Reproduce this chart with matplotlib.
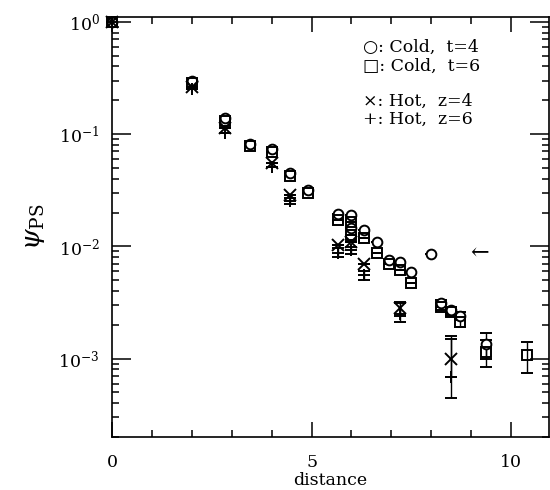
import matplotlib
matplotlib.use('Agg')
import matplotlib.pyplot as plt
import numpy as np

plt.rcParams['font.family'] = ['DejaVu Serif', 'DejaVu Sans']
plt.rcParams['mathtext.fontset'] = 'dejavuserif'

# Cold, t=4 (cerchi)
cold4_x = [0, 2.00, 2.83, 3.46, 4.00, 4.47, 4.90, 5.66, 6.00, 6.00, 6.32, 6.63, 6.93, 7.21, 7.48, 8.00, 8.25, 8.49, 8.72, 9.38]
cold4_y = [1.0, 0.297, 0.139, 0.081, 0.073, 0.045, 0.0316, 0.0193, 0.019, 0.0145, 0.0139, 0.0109, 0.0075, 0.0072, 0.0059, 0.0086, 0.0031, 0.0027, 0.0024, 0.00135]
cold4_err = [0, 0, 0, 0, 0, 0, 0, 0, 0, 0, 0, 0, 0, 0, 0, 0, 0.0002, 0.0002, 0.0002, 0.00035]

# Cold, t=6 (quadrati)
cold6_x = [0, 2.00, 2.83, 3.46, 4.00, 4.47, 4.90, 5.66, 6.00, 6.00, 6.32, 6.63, 6.93, 7.21, 7.48, 8.25, 8.49, 8.72, 9.38, 10.39]
cold6_y = [1.0, 0.285, 0.131, 0.078, 0.069, 0.042, 0.0296, 0.0171, 0.0165, 0.0125, 0.0118, 0.0088, 0.0069, 0.0061, 0.0047, 0.0029, 0.0026, 0.0021, 0.00115, 0.00108]
cold6_err = [0, 0, 0, 0, 0, 0, 0, 0, 0, 0, 0, 0, 0, 0, 0, 0.0002, 0.0002, 0.0002, 0.0003, 0.00034]

# Hot, z=4 (croci x)
hot4_x = [0, 2.00, 2.83, 4.00, 4.47, 5.66, 6.00, 6.32, 7.21, 8.49]
hot4_y = [1.0, 0.263, 0.113, 0.055, 0.0285, 0.0102, 0.0109, 0.0070, 0.0028, 0.0010]
hot4_lo = [0, 0, 0, 0, 0, 0, 0, 0, 0.0004, 0.00032]
hot4_hi = [0, 0, 0, 0, 0, 0, 0, 0, 0.0004, 0.0006]

# Hot, z=6 (croci +)
hot6_x = [0, 2.00, 2.83, 4.00, 4.47, 5.66, 6.00, 6.32, 7.21, 8.49]
hot6_y = [1.0, 0.252, 0.102, 0.051, 0.0256, 0.0088, 0.0092, 0.0055, 0.0025, 0.00068]
hot6_lo = [0, 0, 0, 0, 0.0016, 0.0008, 0.0007, 0.0005, 0.0004, 0.00023]
hot6_hi = [0, 0, 0, 0, 0.0016, 0.0008, 0.0007, 0.0005, 0.0006, 0.00082]

legend_lines = ['\u25cb: Cold,  t=4', '\u25a1: Cold,  t=6', '\u00d7: Hot,  z=4', '+: Hot,  z=6']

fig = plt.figure(figsize=(5.5, 4.9), dpi=100)
ax = fig.add_axes([0.204, 0.108, 0.794, 0.857])

stile = dict(color='black', linestyle='none', elinewidth=1.0, capsize=4, capthick=1.0, clip_on=False)
ax.errorbar(cold4_x, cold4_y, yerr=cold4_err, marker='o', ms=7, mfc='white', mec='black', mew=1.4, **stile)
ax.errorbar(cold6_x, cold6_y, yerr=cold6_err, marker='s', ms=6.5, mfc='none', mec='black', mew=1.4, **stile)
ax.errorbar(hot4_x, hot4_y, yerr=[hot4_lo, hot4_hi], marker='x', ms=8, mew=1.4, **stile)
ax.errorbar(hot6_x, hot6_y, yerr=[hot6_lo, hot6_hi], marker='+', ms=8, mew=1.4, **stile)

# freccia accanto al punto anomalo
ax.text(9.2, 0.0086, '\u2190', ha='center', va='center', fontsize=16)

ax.set_yscale('log')
ax.set_xlim(0, 10.95)
ax.set_ylim(2e-4, 1.1)
ax.set_xticks([0, 5, 10])
ax.set_xticks(np.arange(0, 11), minor=True)
ax.set_yticks([1, 1e-1, 1e-2, 1e-3])
ax.set_yticklabels([r'$10^{0}$', r'$10^{-1}$', r'$10^{-2}$', r'$10^{-3}$'])

ax.tick_params(which='both', direction='in', top=True, right=True, width=1.1)
ax.tick_params(axis='y', which='major', length=14, pad=9, labelsize=12.5)
ax.tick_params(axis='x', which='major', length=11, pad=12, labelsize=12.5)
ax.tick_params(which='minor', length=5)
for s in ax.spines.values():
    s.set_linewidth(1.2)

ax.set_xlabel('distance', fontsize=12.5, labelpad=1)
ax.set_ylabel(r'$\psi_{\rm PS}$', fontsize=19, labelpad=8)

ys = [0.929, 0.884, 0.800, 0.757]
for testo, yy in zip(legend_lines, ys):
    ax.text(0.574, yy, testo, transform=ax.transAxes, fontsize=12.5, va='center', ha='left')

fig.savefig('out.png', dpi=100)
